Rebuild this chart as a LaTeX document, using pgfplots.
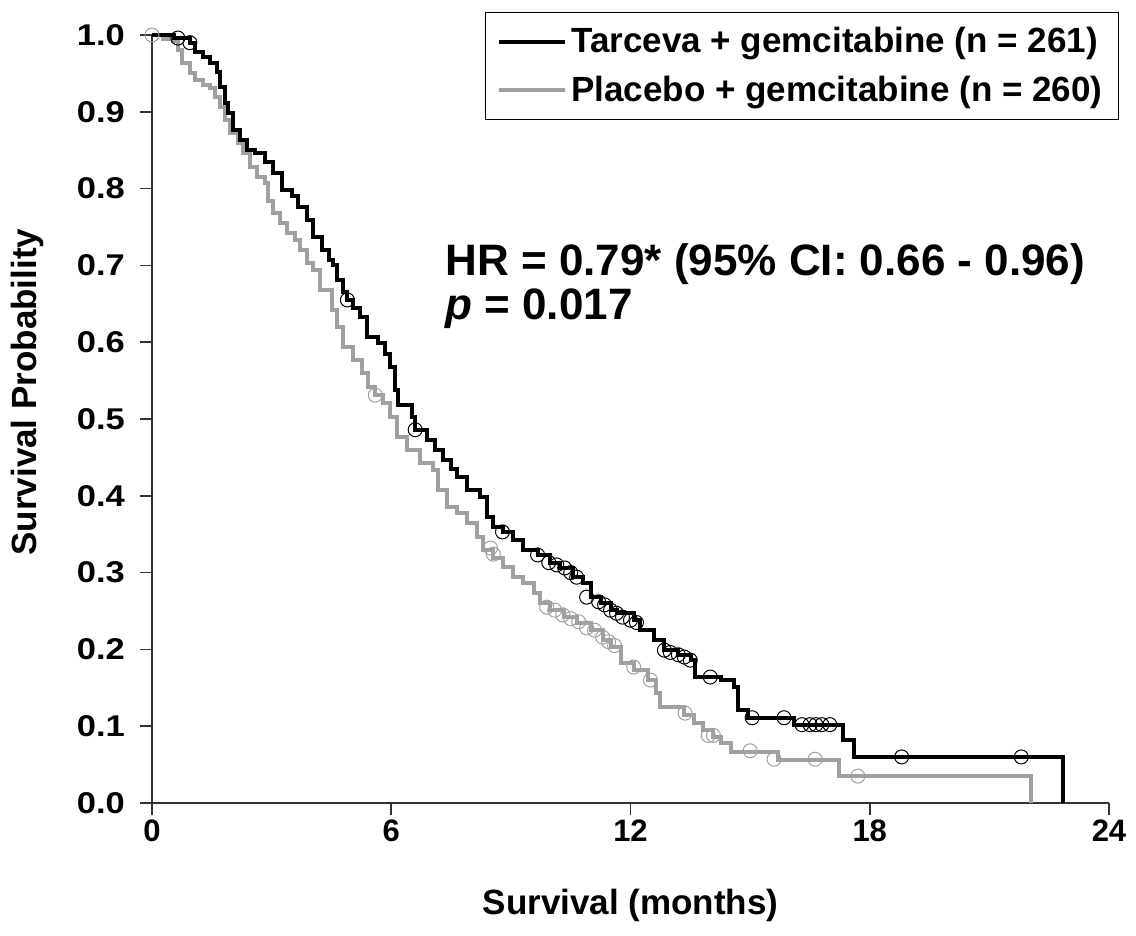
\documentclass[border=0pt]{standalone}
\usepackage{fontspec}
\setmainfont{Liberation Sans}
\newfontfamily\widefont[FakeStretch=1.15]{Liberation Sans}
\usepackage{pgfplots}
\pgfplotsset{compat=1.18}
\definecolor{plgray}{RGB}{160,160,160}
\begin{document}
\begin{tikzpicture}
\path[use as bounding box] (-76pt,-66.5pt) rectangle (492pt,401.5pt);
\begin{axis}[
  scale only axis, width=478.5pt, height=384pt,
  xmin=0, xmax=24, ymin=0, ymax=1,
  axis x line=bottom, axis y line=left,
  axis line style={-, line width=0.8pt, black!80},
  xtick={0,6,12,18,24},
  ytick={0,0.1,0.2,0.3,0.4,0.5,0.6,0.7,0.8,0.9,1},
  tick align=outside, major tick length=6pt,
  tick style={line width=0.8pt, black!80},
  /pgf/number format/assume math mode=true,
  yticklabel style={/pgf/number format/fixed, /pgf/number format/fixed zerofill, /pgf/number format/precision=1, font=\widefont\bfseries\fontsize{15}{17}\selectfont, xshift=-4pt},
  xticklabel style={font=\bfseries\fontsize{15.5}{18}\selectfont, yshift=1pt},
  xlabel={Survival (months)}, ylabel={Survival Probability},
  label style={font=\bfseries\fontsize{17.5}{21}\selectfont},
  xlabel style={at={(axis description cs:0.5,-0.1328)}, anchor=center},
  ylabel style={at={(axis description cs:-0.1306,0.535)}, anchor=center},
  clip=false,
  legend style={at={(1.0105,1.030)}, anchor=north east, draw=black, line width=0.6pt,
    font=\bfseries\fontsize{17.5}{20}\selectfont, cells={anchor=west},
    inner xsep=6pt, inner ysep=5.5pt, row sep=6pt},
  legend image code/.code={\path (0pt,0pt) -- (13pt,0pt); \draw[#1] (13pt,0pt) -- (33pt,0pt);},
]
\addlegendimage{black, line width=2pt}
\addlegendentry{Tarceva + gemcitabine (n = 261)}
\addlegendimage{plgray, line width=2pt}
\addlegendentry{Placebo + gemcitabine (n = 260)}

% Placebo + gemcitabine
\addplot[const plot, plgray, line width=2pt, forget plot] coordinates {
(0,1.0) (0.28,0.995) (0.53,0.992) (0.65,0.98) (0.75,0.964) (0.95,0.951) (1.08,0.941)
(1.28,0.935) (1.46,0.931) (1.58,0.919) (1.71,0.906) (1.83,0.889) (1.96,0.872) (2.16,0.859)
(2.28,0.846) (2.46,0.828) (2.64,0.815) (2.84,0.807) (2.91,0.784) (3.04,0.768) (3.21,0.755)
(3.39,0.742) (3.59,0.733) (3.72,0.72) (3.89,0.703) (4.04,0.694) (4.22,0.668) (4.52,0.642)
(4.64,0.62) (4.8,0.594) (5.05,0.577) (5.27,0.56) (5.42,0.542) (5.6,0.531) (5.8,0.521)
(5.98,0.503) (6.15,0.477) (6.4,0.46) (6.73,0.443) (7.05,0.434) (7.18,0.408) (7.41,0.385)
(7.66,0.378) (7.91,0.365) (8.16,0.346) (8.31,0.329) (8.56,0.319) (8.81,0.307) (9.06,0.294)
(9.31,0.286) (9.57,0.273) (9.74,0.26) (9.99,0.251) (10.32,0.242) (10.67,0.234) (11.0,0.225)
(11.32,0.212) (11.5,0.203) (11.75,0.182) (12.08,0.173) (12.43,0.16) (12.63,0.143) (12.75,0.125)
(13.33,0.115) (13.58,0.104) (13.83,0.095) (14.08,0.086) (14.26,0.078) (14.51,0.066)
(15.69,0.056) (17.22,0.035) (22.04,0.0)
};
\addplot[only marks, mark=o, mark size=3.5pt, plgray, mark options={line width=0.5pt}, forget plot] coordinates {
(0,1.0) (5.6,0.531) (8.49,0.332) (8.56,0.324) (9.9,0.255) (10.1,0.251) (10.3,0.245) (10.5,0.24)
(10.7,0.236) (10.9,0.228) (11.1,0.225) (11.3,0.216) (11.45,0.21) (11.6,0.205) (12.08,0.177)
(12.5,0.16) (13.37,0.117) (13.95,0.088) (14.08,0.088) (15.0,0.068) (15.6,0.057) (16.63,0.057)
(17.7,0.035)
};
% Tarceva + gemcitabine
\addplot[const plot, black, line width=2pt, forget plot] coordinates {
(0,1.0) (0.55,0.996) (0.95,0.99) (1.08,0.978) (1.28,0.971) (1.46,0.964) (1.63,0.952)
(1.71,0.932) (1.83,0.911) (1.91,0.898) (2.03,0.876) (2.21,0.863) (2.39,0.85) (2.59,0.846)
(2.84,0.835) (3.04,0.82) (3.26,0.798) (3.51,0.79) (3.67,0.776) (3.89,0.759) (4.04,0.737)
(4.27,0.72) (4.45,0.707) (4.55,0.7) (4.64,0.681) (4.8,0.665) (4.9,0.655) (5.05,0.645)
(5.22,0.633) (5.4,0.607) (5.67,0.599) (5.85,0.585) (5.98,0.568) (6.1,0.538) (6.18,0.518)
(6.53,0.503) (6.6,0.486) (6.9,0.473) (7.1,0.46) (7.31,0.447) (7.5,0.435) (7.66,0.424)
(7.91,0.408) (8.23,0.398) (8.41,0.372) (8.56,0.359) (8.79,0.353) (9.06,0.342) (9.31,0.329)
(9.67,0.323) (9.99,0.313) (10.24,0.306) (10.57,0.294) (10.82,0.286) (11.0,0.268) (11.25,0.26)
(11.5,0.251) (11.67,0.247) (12.08,0.238) (12.25,0.225) (12.58,0.212) (12.83,0.199)
(13.18,0.193) (13.51,0.186) (13.63,0.164) (14.26,0.16) (14.59,0.151) (14.69,0.121)
(14.94,0.111) (16.09,0.102) (17.32,0.082) (17.6,0.06) (22.85,0.0)
};
\addplot[only marks, mark=o, mark size=3.5pt, black, mark options={line width=0.5pt}, forget plot] coordinates {
(0.65,0.996) (0.95,0.99) (4.9,0.655) (6.6,0.486) (8.79,0.353) (9.67,0.323) (9.95,0.313)
(10.15,0.31) (10.35,0.306) (10.5,0.3) (10.65,0.294) (10.9,0.268) (11.2,0.262) (11.35,0.258)
(11.5,0.251) (11.65,0.247) (11.8,0.242) (12.0,0.238) (12.15,0.235) (12.85,0.199) (13.0,0.196)
(13.2,0.193) (13.35,0.19) (13.5,0.186) (14.0,0.164) (15.05,0.111) (15.85,0.111) (16.3,0.102)
(16.5,0.102) (16.65,0.102) (16.8,0.102) (17.0,0.102) (18.8,0.06) (21.8,0.06)
};
\node[anchor=base west, font=\bfseries\fontsize{22}{26}\selectfont, inner sep=0pt] at (axis cs:7.35,0.687) {HR = 0.79* (95\% CI: 0.66 - 0.96)};
\node[anchor=base west, font=\bfseries\fontsize{22}{26}\selectfont, inner sep=0pt] at (axis cs:7.35,0.629) {\textit{p} = 0.017};
\end{axis}
\end{tikzpicture}
\end{document}
